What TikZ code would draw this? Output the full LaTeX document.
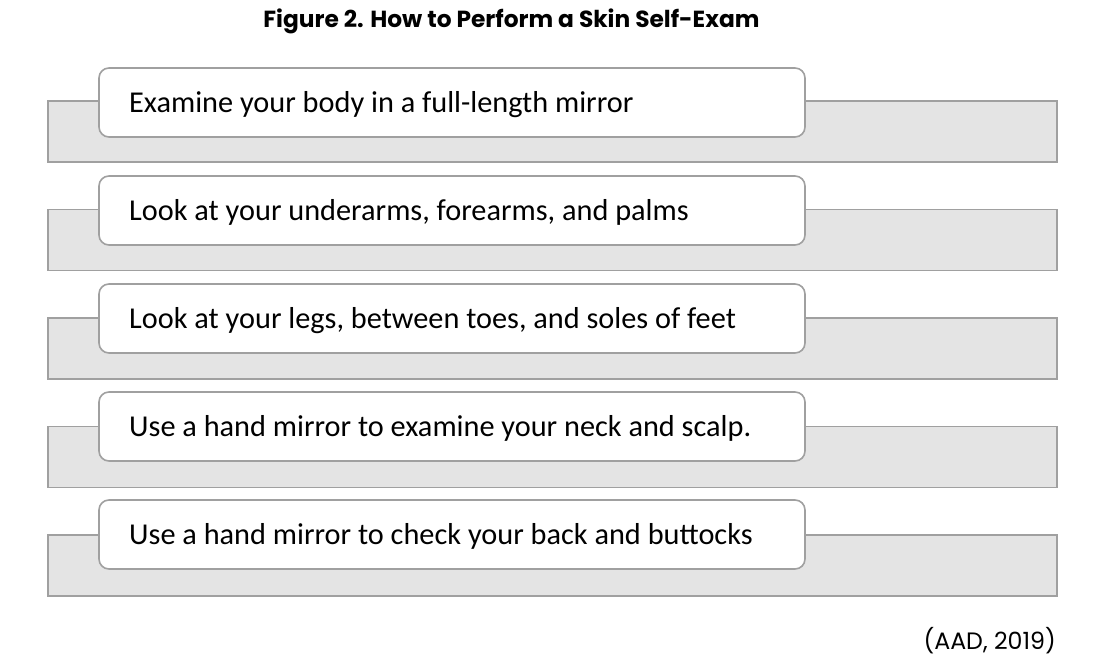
\documentclass[tikz,border=0pt]{standalone}
\usepackage{fontspec}
\setmainfont{Carlito}
\newfontfamily\popfont{Poppins}
\newfontfamily\popbold{Poppins}[UprightFont=* Bold]
\definecolor{bandfill}{HTML}{E4E4E4}
\definecolor{edge}{HTML}{A0A0A0}
\tikzset{
  band/.style={draw=edge, fill=bandfill, line width=1.6pt},
  stepbox/.style={draw=edge, fill=white, line width=1.6pt, rounded corners=10pt},
  steptext/.style={anchor=west, font=\fontsize{30.3}{34}\selectfont, text=black, inner sep=0pt},
}
\begin{document}
\begin{tikzpicture}[x=1pt,y=-1pt]
\useasboundingbox (0,0) rectangle (1104,668);
\node[font=\popbold\fontsize{23.3}{26}\selectfont, inner sep=0pt] (title) at (511.5,21.5) {Figure 2. How to Perform a Skin Self-Exam};
\foreach \i/\t in {0/{Examine your body in a full-length mirror},
                   1/{Look at your underarms, forearms, and palms},
                   2/{Look at your legs, between toes, and soles of feet},
                   3/{Use a hand mirror to examine your neck and scalp.},
                   4/{Use a hand mirror to check your back and buttocks}}{
  \pgfmathsetmacro{\bt}{101+108.5*\i}
  \pgfmathsetmacro{\wt}{68+108*\i}
  \draw[band] (48,\bt) rectangle (1057,\bt+61);
  \draw[stepbox] (99,\wt) rectangle (805,\wt+69);
  \node[steptext] (s\i) at (129,\wt+36.5) {\t};
}
\node[anchor=east, inner sep=0pt, font=\popfont\fontsize{23.7}{27}\selectfont] (cite) at (1056,641) {(AAD, 2019)};
\end{tikzpicture}
\end{document}
